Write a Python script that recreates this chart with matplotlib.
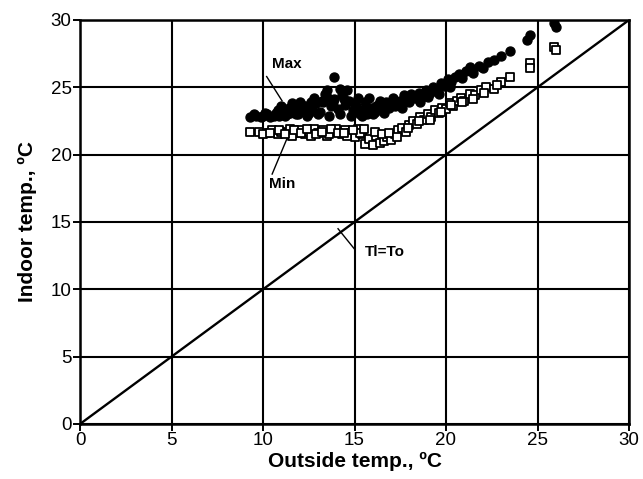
import matplotlib
matplotlib.use("Agg")
import matplotlib.pyplot as plt

max_x = [9.3, 9.6, 9.9, 10.2, 10.4, 10.7, 10.9, 11.1, 11.3, 11.5, 11.7, 11.9, 12.1, 12.3, 12.5,
         12.7, 12.9, 13.1, 13.3, 13.5, 13.7, 13.9, 14.1, 14.3, 14.5, 14.7, 14.9, 15.1, 15.3, 15.5,
         15.7, 15.9, 16.1, 16.3, 16.5, 16.7, 16.9, 17.1, 17.3, 17.5, 17.7, 17.9, 18.1, 18.3, 18.5,
         18.7, 18.9, 19.1, 19.3, 19.5, 19.7, 19.9, 20.1, 20.3, 20.5, 20.7, 20.9, 21.1, 21.3, 21.5,
         21.8, 22.0, 22.3, 22.6, 23.0, 23.5, 24.4, 24.6, 25.9, 26.0, 13.9, 13.5, 14.2, 14.6,
         10.0, 10.6, 11.2, 11.8, 12.4, 13.0, 13.6, 14.2, 14.8, 15.4, 16.0, 16.6, 12.0, 12.8, 13.4,
         9.5, 10.1, 10.8, 11.4, 12.2, 12.6, 13.2, 13.8, 14.4, 15.0, 15.6, 16.2, 16.8, 17.2, 17.6,
         18.0, 18.6, 19.0, 19.6, 20.2, 15.2, 15.8, 16.4, 11.0, 11.6]
max_y = [22.8, 22.9, 22.8, 23.0, 22.8, 23.1, 22.9, 23.2, 23.0, 23.1, 23.4, 23.0, 23.3, 23.6, 23.1,
         23.5, 23.8, 23.2, 23.9, 24.3, 23.6, 24.1, 23.4, 24.4, 23.7, 24.0, 23.3, 23.6, 23.0, 23.4,
         23.0, 23.5, 23.2, 23.7, 23.4, 23.9, 23.5, 24.2, 23.8, 24.0, 24.4, 24.1, 24.5, 24.2, 24.6,
         24.3, 24.8, 24.6, 25.0, 24.8, 25.3, 25.1, 25.6, 25.4, 25.8, 26.0, 25.7, 26.2, 26.5, 26.1,
         26.6, 26.4, 26.9, 27.0, 27.3, 27.7, 28.5, 28.9, 29.8, 29.5, 25.8, 24.8, 24.9, 24.8,
         22.9, 22.9, 22.9, 23.0, 22.9, 23.0, 22.9, 23.0, 22.9, 22.9, 23.0, 23.1, 23.9, 24.2, 24.5,
         23.0, 23.1, 23.3, 23.5, 23.6, 23.9, 24.0, 23.9, 24.1, 23.8, 23.9, 23.6, 23.8, 23.6, 23.5,
         23.9, 23.9, 24.3, 24.5, 25.0, 24.2, 24.2, 24.0, 23.6, 23.8]

min_x = [9.3, 9.8, 10.2, 10.5, 10.8, 11.0, 11.3, 11.5, 11.8, 12.0, 12.3, 12.5, 12.8, 13.0, 13.3,
         13.5, 13.8, 14.0, 14.3, 14.5, 14.8, 15.0, 15.2, 15.4, 15.6, 15.8, 16.0, 16.2, 16.4, 16.6,
         16.8, 17.0, 17.2, 17.4, 17.6, 17.8, 18.0, 18.2, 18.4, 18.6, 18.8, 19.0, 19.2, 19.4, 19.6,
         19.8, 20.0, 20.2, 20.4, 20.6, 20.8, 21.0, 21.3, 21.6, 21.9, 22.2, 22.6, 23.0, 23.5, 24.6,
         24.6, 25.9, 26.0, 11.6, 12.6, 13.6, 14.6, 15.3,
         10.0, 10.4, 10.9, 11.2, 11.7, 12.1, 12.4, 12.9, 13.2, 13.7, 14.1, 14.4, 14.9, 15.5, 16.1,
         16.5, 16.9, 17.3, 17.9, 18.5, 19.1, 19.7, 20.3, 20.9, 21.5, 22.1, 22.8]
min_y = [21.7, 21.7, 21.6, 21.8, 21.5, 21.7, 21.6, 21.9, 21.6, 21.8, 21.5, 21.7, 21.9, 21.6, 21.8,
         21.4, 21.7, 21.9, 21.5, 21.8, 21.6, 21.3, 21.9, 21.5, 20.8, 21.2, 20.7, 21.4, 20.9, 21.0,
         21.3, 21.1, 21.5, 21.8, 22.0, 21.7, 22.2, 22.5, 22.3, 22.8, 22.6, 23.0, 22.8, 23.3, 23.1,
         23.5, 23.4, 23.8, 23.6, 24.0, 24.2, 24.0, 24.5, 24.4, 24.8, 25.0, 24.9, 25.4, 25.8, 26.8,
         26.4, 28.0, 27.8, 21.4, 21.4, 21.5, 21.4, 21.6,
         21.5, 21.6, 21.8, 21.5, 21.8, 21.6, 21.9, 21.5, 21.7, 21.9, 21.6, 21.6, 21.8, 21.9, 21.7,
         21.5, 21.6, 21.3, 22.0, 22.5, 22.6, 23.2, 23.7, 23.9, 24.1, 24.6, 25.2]

ticks = [0, 5, 10, 15, 20, 25, 30]
xlabel = "Outside temp., \u00baC"
ylabel = "Indoor temp., \u00baC"

plt.rcParams['font.family'] = ['Liberation Sans', 'DejaVu Sans']

fig = plt.figure(figsize=(6.43, 4.79), dpi=100)
ax = fig.add_axes([80/643, 55/479, 549/643, 404/479])

ax.set_xlim(0, 30)
ax.set_ylim(0, 30)
ax.set_xticks(ticks)
ax.set_yticks(ticks)
ax.grid(True, color='black', linewidth=1.5)
ax.set_axisbelow(True)
for s in ax.spines.values():
    s.set_linewidth(1.8)
ax.tick_params(direction='out', length=5, width=1.4, labelsize=13.5, pad=1)

ax.plot([0, 30], [0, 30], color='black', linewidth=1.7, zorder=3)

ax.scatter(min_x, min_y, marker='s', s=30, facecolors='white', edgecolors='black',
           linewidths=1.3, zorder=4)
ax.scatter(max_x, max_y, marker='o', s=42, color='black', zorder=5)

ax.set_xlabel(xlabel, fontsize=15, fontweight='bold', labelpad=2)
ax.set_ylabel(ylabel, fontsize=15, fontweight='bold', labelpad=10)

ax.text(10.5, 26.7, "Max", fontsize=11, fontweight='bold', va='center', ha='left', zorder=6)
ax.plot([10.2, 11.04], [25.8, 24.0], color='black', linewidth=1.0, zorder=6)
ax.text(10.33, 17.8, "Min", fontsize=11, fontweight='bold', va='center', ha='left', zorder=6)
ax.plot([10.5, 11.3], [18.56, 21.16], color='black', linewidth=1.0, zorder=6)
ax.text(15.57, 12.77, "Tl=To", fontsize=11, fontweight='bold', va='center', ha='left', zorder=6)
ax.plot([14.1, 15.0], [14.5, 12.99], color='black', linewidth=1.0, zorder=6)

fig.savefig("out.png", dpi=100)
